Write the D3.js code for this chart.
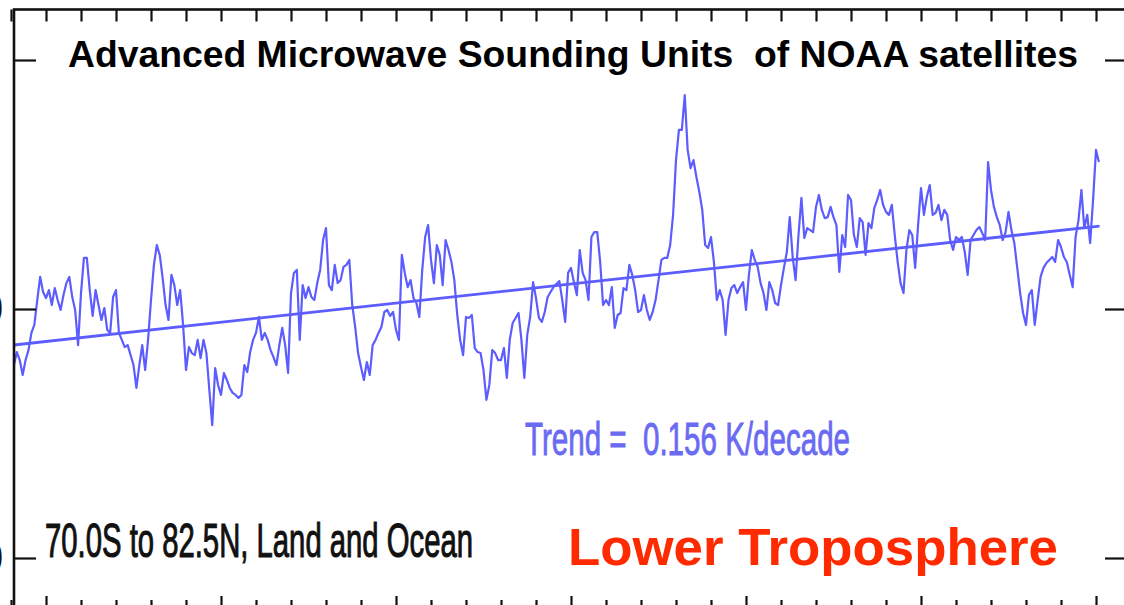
<!DOCTYPE html>
<html>
<head>
<meta charset="utf-8">
<script src="https://cdn.jsdelivr.net/npm/d3@7"></script>
<style>
  body { margin: 0; background: #fff; }
  svg { display: block; }
</style>
</head>
<body>
<div id="chart"></div>
<script>
// Monthly lower troposphere anomalies (K), starting Jan 1979
const firstYear = 1979;
const tltAnomaly = [
  // 1979
  -.185, -.225, -.173, -.205, -.265, -.205, -.165, -.096, -.064, .036, .129, .068,
  // 1980
  .044, .076, .016, .084, .036, -.004, .056, .104, .129, .048, -.004, -.145,
  // 1981
  .064, .205, .205, .076, -.028, .076, .016, -.044, .004, -.084, -.096, .048,
  // 1982
  .076, -.096, -.124, -.153, -.145, -.185, -.225, -.317, -.225, -.145, -.245, -.124,
  // 1983
  .036, .177, .257, .217, .124, .016, -.044, .137, .096, .016, .076, -.064,
  // 1984
  -.245, -.153, -.177, -.185, -.124, -.197, -.124, -.177, -.325, -.466, -.237, -.305,
  // 1985
  -.345, -.257, -.285, -.317, -.337, -.345, -.357, -.345, -.225, -.253, -.173, -.124,
  // 1986
  -.096, -.032, -.124, -.096, -.124, -.165, -.193, -.225, -.145, -.076, -.145, -.257,
  // 1987
  .064, .145, .157, -.124, .096, .044, .088, .048, .036, .104, .157, .277,
  // 1988
  .325, .096, .076, .177, .104, .116, .169, .177, .197, .016, -.072, -.177,
  // 1989
  -.233, -.285, -.213, -.265, -.145, -.124, -.096, -.072, -.012, -.004, -.028, -.012,
  // 1990
  -.084, -.124, .217, .145, .088, .116, .044, .024, -.032, .157, .289, .337,
  // 1991
  .197, .104, .257, .217, .096, .277, .237, .189, .116, -.024, -.124, -.185,
  // 1992
  -.032, -.036, -.024, -.157, -.173, -.177, -.245, -.365, -.305, -.165, -.177, -.205,
  // 1993
  -.205, -.157, -.277, -.124, -.056, -.036, -.016, -.124, -.277, -.104, -.032, .108,
  // 1994
  .044, -.036, -.052, -.012, .048, .068, .088, .100, .112, .036, -.052, .145,
  // 1995
  .165, .108, .056, .237, .145, .116, .036, .289, .309, .309, .189, .016,
  // 1996
  .036, .016, .088, -.076, -.024, -.016, .084, .076, .177, .137, .076, -.012,
  // 1997
  -.004, .056, -.004, -.044, -.012, .036, .116, .197, .205, .205, .257, .378,
  // 1998
  .598, .719, .719, .859, .639, .566, .598, .530, .470, .398, .257, .245,
  // 1999
  .289, .189, .036, .076, .036, -.104, .036, .084, .096, .064, .088, .108,
  // 2000
  -.004, .137, .237, .197, .169, .104, .064, -.004, .108, .076, .024, .016,
  // 2001
  .096, .165, .229, .369, .209, .116, .297, .446, .285, .325, .317, .309,
  // 2002
  .410, .458, .398, .365, .369, .410, .369, .337, .149, .297, .249, .458,
  // 2003
  .438, .297, .249, .365, .349, .217, .345, .325, .406, .438, .478, .418,
  // 2004
  .390, .378, .418, .297, .189, .104, .064, .237, .317, .297, .165, .337,
  // 2005
  .486, .378, .450, .498, .378, .386, .418, .357, .398, .378, .277, .237,
  // 2006
  .289, .277, .289, .229, .137, .277, .297, .317, .329, .305, .277, .590,
  // 2007
  .478, .410, .369, .337, .277, .309, .390, .317, .265, .165, .064, -.016,
  // 2008
  -.064, .056, .076, -.064, .036, .129, .165, .185, .197, .209, .189, .277,
  // 2009
  .249, .209, .189, .137, .088, .289, .357, .478, .325, .378, .265, .438,
  // 2010
  .639, .590
];

// Linear trend, 0.156 K/decade (end points)
const trendYears = [1979.05, 2010.1];
const trendValues = [-0.145, 0.333];

// Axis ticks (the top label is outside the cropped picture)
const yTicks = [-1, 0, 1];
const yTickLabels = ["-1.0", "0.0", ""];
const yearTicks = d3.range(1979, 2012);
const majorYearTicks = [1980, 1985, 1990, 1995, 2000, 2005, 2010];

// Texts
const titleText = "Advanced Microwave Sounding Units  of NOAA satellites";
const trendText = "Trend =  0.156 K/decade";
const regionText = "70.0S to 82.5N, Land and Ocean";
const layerText = "Lower Troposphere";

const width = 1124, height = 605;
const frame = { left: 14, top: 9.5, right: 1128, bottom: 611 };
const lineColor = "#5c5cff";

const svg = d3.select("#chart").append("svg")
    .attr("width", width)
    .attr("height", height);

const x = d3.scaleLinear().domain([1979, 2010]).range([11, 1096]);
const y = d3.scaleLinear().domain([-1, 1]).range([558, 60]);

const series = tltAnomaly.map((v, i) => ({ t: firstYear + i / 12, v: v }));

// Clip marks to the frame
svg.append("clipPath").attr("id", "plot-clip")
    .append("rect")
    .attr("x", frame.left).attr("y", frame.top)
    .attr("width", frame.right - frame.left)
    .attr("height", frame.bottom - frame.top);

const plot = svg.append("g").attr("clip-path", "url(#plot-clip)");

// Data line
const line = d3.line()
    .x(d => x(d.t))
    .y(d => y(d.v));

plot.append("path")
    .datum(series)
    .attr("d", line)
    .attr("fill", "none")
    .attr("stroke", lineColor)
    .attr("stroke-width", 2.2)
    .attr("stroke-linejoin", "round");

// Trend line
const trend = trendYears.map((t, i) => ({ t: t, v: trendValues[i] }));
plot.append("path")
    .datum(trend)
    .attr("d", line)
    .attr("fill", "none")
    .attr("stroke", lineColor)
    .attr("stroke-width", 2.8);

// Axes (ticks point inward)
function styleAxis(g) {
    g.select(".domain").remove();
    g.selectAll(".tick line").attr("stroke", "#111").attr("stroke-width", 2.2);
}

svg.append("g")
    .attr("transform", `translate(0,${frame.top})`)
    .call(d3.axisTop(x).tickValues(yearTicks).tickSize(-12).tickFormat(""))
    .call(styleAxis);

svg.append("g")
    .attr("transform", `translate(0,${frame.bottom})`)
    .call(d3.axisBottom(x).tickValues(yearTicks.filter(t => !majorYearTicks.includes(t))).tickSize(-11).tickFormat(""))
    .call(styleAxis);

svg.append("g")
    .attr("transform", `translate(0,${frame.bottom})`)
    .call(d3.axisBottom(x).tickValues(majorYearTicks).tickSize(-15).tickFormat(""))
    .call(styleAxis);

svg.append("g")
    .attr("transform", `translate(${frame.left},0)`)
    .call(d3.axisLeft(y).tickValues(yTicks).tickSize(-22).tickPadding(10.5)
        .tickFormat((d, i) => yTickLabels[i]))
    .call(styleAxis)
    .call(g => g.selectAll("text")
        .attr("font-family", "Liberation Sans, Arial, sans-serif")
        .attr("font-size", 48)
        .attr("fill", "#111"));

svg.append("g")
    .attr("transform", `translate(${frame.right},0)`)
    .call(d3.axisRight(y).tickValues(yTicks).tickSize(-23).tickFormat(""))
    .call(styleAxis);

// Frame
svg.append("rect")
    .attr("x", frame.left).attr("y", frame.top)
    .attr("width", frame.right - frame.left)
    .attr("height", frame.bottom - frame.top)
    .attr("fill", "none")
    .attr("stroke", "#111")
    .attr("stroke-width", 2.6);

// Texts
svg.append("text")
    .attr("x", 68).attr("y", 67)
    .attr("font-family", "Liberation Sans, Arial, sans-serif")
    .attr("font-weight", "bold")
    .attr("font-size", 37)
    .attr("fill", "#000")
    .attr("textLength", 1010)
    .attr("lengthAdjust", "spacingAndGlyphs")
    .style("white-space", "pre")
    .text(titleText);

svg.append("text")
    .attr("x", 525).attr("y", 455)
    .attr("font-family", "Liberation Sans, Arial, sans-serif")
    .attr("font-size", 46)
    .attr("fill", "#6a6af2")
    .attr("stroke", "#6a6af2")
    .attr("stroke-width", 0.9)
    .attr("textLength", 325)
    .attr("lengthAdjust", "spacingAndGlyphs")
    .style("white-space", "pre")
    .text(trendText);

svg.append("text")
    .attr("x", 45).attr("y", 557)
    .attr("font-family", "Liberation Sans, Arial, sans-serif")
    .attr("font-size", 48)
    .attr("fill", "#111")
    .attr("stroke", "#111")
    .attr("stroke-width", 1.1)
    .attr("textLength", 428)
    .attr("lengthAdjust", "spacingAndGlyphs")
    .text(regionText);

svg.append("text")
    .attr("x", 568).attr("y", 565)
    .attr("font-family", "Liberation Sans, Arial, sans-serif")
    .attr("font-weight", "bold")
    .attr("font-size", 52)
    .attr("fill", "#ff2a00")
    .attr("textLength", 490)
    .attr("lengthAdjust", "spacingAndGlyphs")
    .text(layerText);
</script>
</body>
</html>
